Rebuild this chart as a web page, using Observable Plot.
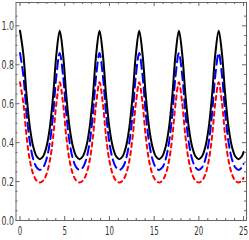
<!DOCTYPE html>
<html>
<head>
<meta charset="utf-8">
<script src="https://cdn.jsdelivr.net/npm/d3@7"></script>
<script src="https://cdn.jsdelivr.net/npm/@observablehq/plot@0.6"></script>
<style>
  html, body { margin: 0; padding: 0; background: #fff; }
  svg text { font-family: "Liberation Sans Narrow", "DejaVu Sans Condensed", sans-serif; }
</style>
</head>
<body>
<div id="chart"></div>
<script>
const xs = [0,0.37,0.74,1.11,1.48,1.85,2.22,2.59,2.96,3.33,3.70,4.07,
  4.44,4.81,5.18,5.55,5.92,6.29,6.66,7.03,7.41,7.78,8.15,8.52,
  8.89,9.26,9.63,10.00,10.37,10.74,11.11,11.48,11.85,12.22,12.59,12.96,
  13.33,13.70,14.07,14.44,14.81,15.18,15.55,15.92,16.29,16.66,17.03,17.40,
  17.77,18.14,18.51,18.88,19.25,19.62,19.99,20.36,20.73,21.10,21.47,21.84,
  22.22,22.59,22.96,23.33,23.70,24.07,24.44,24.81,25.00];
const black = [0.975,0.855,0.640,0.476,0.379,0.330,0.315,0.330,0.379,0.476,0.640,0.855,
  0.975,0.855,0.640,0.476,0.379,0.330,0.315,0.330,0.379,0.476,0.640,0.855,
  0.975,0.855,0.640,0.476,0.379,0.330,0.315,0.330,0.379,0.476,0.640,0.855,
  0.975,0.855,0.640,0.476,0.379,0.330,0.315,0.330,0.379,0.476,0.640,0.855,
  0.975,0.855,0.640,0.476,0.379,0.330,0.315,0.330,0.379,0.476,0.640,0.855,
  0.975,0.855,0.640,0.476,0.379,0.330,0.315,0.330,0.352];
const blue = [0.860,0.745,0.545,0.399,0.315,0.273,0.260,0.273,0.315,0.399,0.545,0.745,
  0.860,0.745,0.545,0.399,0.315,0.273,0.260,0.273,0.315,0.399,0.545,0.745,
  0.860,0.745,0.545,0.399,0.315,0.273,0.260,0.273,0.315,0.399,0.545,0.745,
  0.860,0.745,0.545,0.399,0.315,0.273,0.260,0.273,0.315,0.399,0.545,0.745,
  0.860,0.745,0.545,0.399,0.315,0.273,0.260,0.273,0.315,0.399,0.545,0.745,
  0.860,0.745,0.545,0.399,0.315,0.273,0.260,0.273,0.291];
const red = [0.710,0.603,0.428,0.306,0.238,0.205,0.195,0.205,0.238,0.306,0.428,0.603,
  0.710,0.603,0.428,0.306,0.238,0.205,0.195,0.205,0.238,0.306,0.428,0.603,
  0.710,0.603,0.428,0.306,0.238,0.205,0.195,0.205,0.238,0.306,0.428,0.603,
  0.710,0.603,0.428,0.306,0.238,0.205,0.195,0.205,0.238,0.306,0.428,0.603,
  0.710,0.603,0.428,0.306,0.238,0.205,0.195,0.205,0.238,0.306,0.428,0.603,
  0.710,0.603,0.428,0.306,0.238,0.205,0.195,0.205,0.219];

const xTicks = [0,5,10,15,20,25];
const yTicks = [0,0.2,0.4,0.6,0.8,1.0];
const yTickLabels = ["0.0","0.2","0.4","0.6","0.8","1.0"];
const xMinor = d3.range(0, 26, 1).filter(v => v % 5 !== 0);
const yMinor = d3.range(0, 22).map(i => +(i * 0.05).toFixed(2)).filter(v => Math.round(v * 100) % 20 !== 0);

const xDomain = [-0.45, 25.33];
const yDomain = [0, 1.12];
const W = 249, H = 240, mL = 15.5, mR = 3, mT = 2, mB = 20;
const pxX = (xDomain[1] - xDomain[0]) / (W - mL - mR);
const pxY = (yDomain[1] - yDomain[0]) / (H - mT - mB);

const rows = s => xs.map((x, i) => ({x, y: s[i]}));

const tickMarks = (vals, len) => [
  Plot.ruleX(vals, {x: d => d, y1: yDomain[0], y2: yDomain[0] + len * pxY, stroke: "#666", strokeWidth: 1}),
  Plot.ruleX(vals, {x: d => d, y1: yDomain[1], y2: yDomain[1] - len * pxY, stroke: "#666", strokeWidth: 1})
];
const tickMarksY = (vals, len) => [
  Plot.ruleY(vals, {y: d => d, x1: xDomain[0], x2: xDomain[0] + len * pxX, stroke: "#666", strokeWidth: 1}),
  Plot.ruleY(vals, {y: d => d, x1: xDomain[1], x2: xDomain[1] - len * pxX, stroke: "#666", strokeWidth: 1})
];

const chart = Plot.plot({
  width: W, height: H,
  marginLeft: mL, marginRight: mR, marginTop: mT, marginBottom: mB,
  x: {domain: xDomain, label: null},
  y: {domain: yDomain, label: null},
  style: {background: "#fff", color: "#444"},
  marks: [
    Plot.line(rows(red), {x: "x", y: "y", stroke: "#ff0000", strokeWidth: 2, strokeDasharray: "4,4", curve: "catmull-rom"}),
    Plot.line(rows(blue), {x: "x", y: "y", stroke: "#0000ff", strokeWidth: 2, strokeDasharray: "9,5", curve: "catmull-rom"}),
    Plot.line(rows(black), {x: "x", y: "y", stroke: "#000", strokeWidth: 2, curve: "catmull-rom"}),
    ...tickMarks(xTicks, 4),
    ...tickMarks(xMinor, 2),
    ...tickMarksY(yTicks, 4),
    ...tickMarksY(yMinor, 2),
    Plot.frame({stroke: "#666", strokeWidth: 1}),
    Plot.axisX({ticks: xTicks, tickSize: 0, tickPadding: 5.5, fontSize: 13, fill: "#333", label: null}),
    Plot.axisY({ticks: yTicks, tickFormat: (d, i) => yTickLabels[i], tickSize: 0, tickPadding: 2, fontSize: 13, fill: "#333", label: null})
  ]
});
chart.querySelectorAll('g[aria-label="y-axis tick label"] text').forEach(t => {
  t.setAttribute("textLength", "12.5");
  t.setAttribute("lengthAdjust", "spacingAndGlyphs");
});
chart.querySelectorAll('g[aria-label="x-axis tick label"] text').forEach(t => {
  t.setAttribute("textLength", String(t.textContent.length * 4.5));
  t.setAttribute("lengthAdjust", "spacingAndGlyphs");
});
document.getElementById("chart").appendChild(chart);
</script>
</body>
</html>
